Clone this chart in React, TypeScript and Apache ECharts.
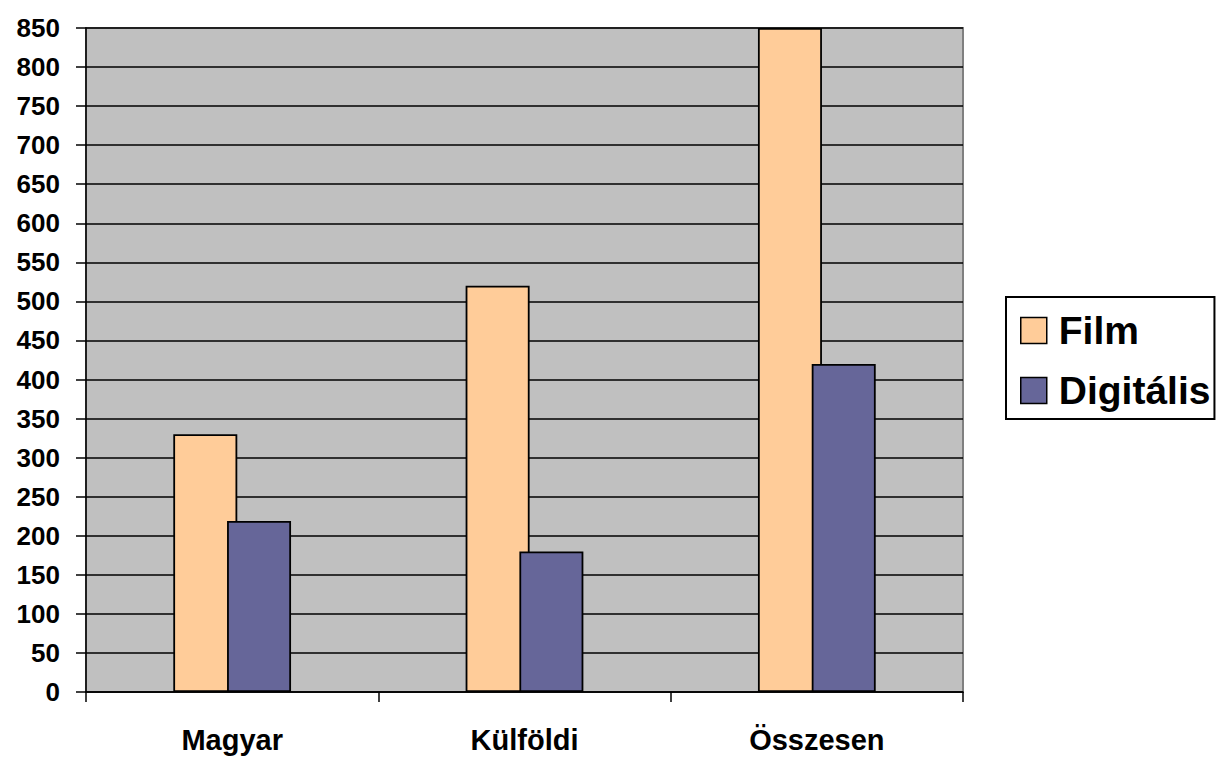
import React, { useEffect, useRef } from "react";
import * as echarts from "echarts";

const categories = ["Magyar", "Külföldi", "Összesen"];
const filmValues = [330, 520, 850];
const digitalValues = [219, 180, 420];
const seriesNames = ["Film", "Digitális"];

export default function App() {
  const ref = useRef<HTMLDivElement>(null);
  useEffect(() => {
    const chart = echarts.init(ref.current!, null, { renderer: "svg" });
    const font = "Arial, 'Liberation Sans', sans-serif";
    chart.setOption({
      animation: false,
      backgroundColor: "#ffffff",
      grid: {
        left: 86,
        right: 255,
        top: 28,
        bottom: 68,
        show: true,
        backgroundColor: "#C0C0C0",
        borderColor: "#808080",
        borderWidth: 2,
      },
      legend: {
        orient: "vertical",
        left: 1006,
        top: 297,
        padding: [14, 4, 9, 14],
        itemGap: 21,
        itemWidth: 26,
        itemHeight: 26,
        borderColor: "#000",
        borderWidth: 2,
        backgroundColor: "#fff",
        icon: "rect",
        itemStyle: { borderColor: "#000", borderWidth: 1.5 },
        textStyle: { fontSize: 39, fontWeight: "bold", fontFamily: font, color: "#000", padding: [0, 0, 0, 7] },
        data: seriesNames,
      },
      xAxis: {
        type: "category",
        data: categories,
        boundaryGap: true,
        axisLine: { lineStyle: { color: "#000", width: 1.5 } },
        axisTick: { show: true, length: 10, alignWithLabel: false, lineStyle: { color: "#000", width: 1.5 } },
        axisLabel: { fontSize: 29, fontWeight: "bold", fontFamily: font, color: "#000", margin: 33 },
        splitLine: { show: false },
      },
      yAxis: {
        type: "value",
        min: 0,
        max: 850,
        interval: 50,
        axisLine: { show: true, lineStyle: { color: "#000", width: 1.5 } },
        axisTick: { show: true, length: 10, lineStyle: { color: "#000", width: 1.5 } },
        axisLabel: { fontSize: 26, fontWeight: "bold", fontFamily: font, color: "#000", margin: 26 },
        splitLine: { show: true, lineStyle: { color: "#000", width: 1.5 } },
      },
      series: [
        {
          name: seriesNames[0],
          type: "bar",
          data: filmValues,
          barWidth: 64,
          barGap: "-16%",
          itemStyle: { color: "#FFCC99", borderColor: "#000", borderWidth: 1.8 },
        },
        {
          name: seriesNames[1],
          type: "bar",
          data: digitalValues,
          barWidth: 64,
          barGap: "-16%",
          itemStyle: { color: "#666699", borderColor: "#000", borderWidth: 1.8 },
        },
      ],
    });
    return () => chart.dispose();
  }, []);
  return (
    <div
      ref={ref}
      style={{ position: "absolute", left: 0, top: 0, width: 1218, height: 760 }}
    />
  );
}
